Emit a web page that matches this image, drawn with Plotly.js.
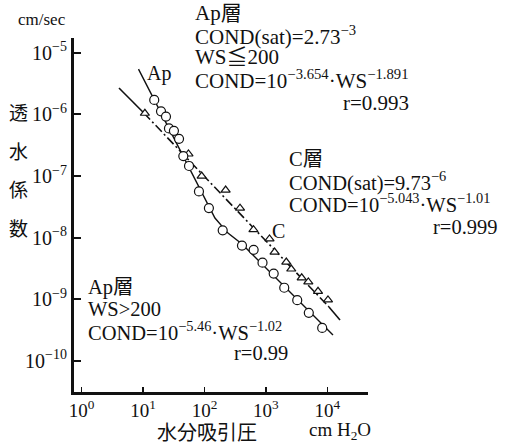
<!DOCTYPE html>
<html><head><meta charset="utf-8">
<script src="https://cdn.plot.ly/plotly-3.0.1.min.js"></script>
<style>html,body{margin:0;padding:0;background:#fff}#chart{width:506px;height:445px}</style>
</head><body><div id="chart"></div>
<script>
// Ap layer: measured points (WS in cm H2O, conductivity in cm/sec)
const apWS = [15.2, 19.6, 23.6, 26.4, 31.8, 38.5, 45.2, 56.0, 81.3, 118, 198, 408, 632, 881, 1340, 1990, 3240, 5000, 8260];
const apK  = [1.71e-6, 1.12e-6, 9.2e-7, 5.9e-7, 5.4e-7, 4.0e-7, 2.1e-7, 1.45e-7, 5.6e-8, 3.0e-8, 1.31e-8, 7.4e-9, 6.3e-9, 3.9e-9, 2.6e-9, 1.53e-9, 9.6e-10, 6.0e-10, 3.4e-10];
// C layer: measured points
const cWS = [10.7, 54.8, 90, 221, 379, 628, 1145, 1385, 2150, 2590, 3830, 4910, 7060, 10260];
const cK  = [1.04e-6, 2.27e-7, 9.95e-8, 5.9e-8, 3.0e-8, 1.34e-8, 9.5e-9, 5.8e-9, 4.0e-9, 3.08e-9, 2.22e-9, 1.90e-9, 1.34e-9, 9.7e-10];
// Ap fitted curve
const apLineWS = [8.42, 102, 148, 241, 408, 12380];
const apLineK  = [5.43e-6, 4.06e-8, 2.07e-8, 1.18e-8, 7.83e-9, 2.61e-10];
// C fitted line: solid start, dash-dot middle, solid end
const cLineWS = [4.05, 10.3, 10660, 16100];
const cLineK  = [2.67e-6, 1.05e-6, 7.45e-10, 4.58e-10];
// ticks
const xTickVals = [1, 10, 100, 1000, 10000];
const xTickText = ['10<sup>0</sup>', '10<sup>1</sup>', '10<sup>2</sup>', '10<sup>3</sup>', '10<sup>4</sup>'];
const yTickVals = [1e-10, 1e-9, 1e-8, 1e-7, 1e-6, 1e-5];
const yTickText = ['10<sup>−10</sup>', '10<sup>−9</sup>', '10<sup>−8</sup>', '10<sup>−7</sup>', '10<sup>−6</sup>', '10<sup>−5</sup>'];

const SERIF = 'Liberation Serif, Noto Sans CJK JP, serif';
const CJK = 'Noto Sans CJK JP, sans-serif';
const W = 506, H = 445, L = 74, R = 368, T = 38, B = 392;
const px = x => (x - L) / (R - L);
const py = y => (B - y) / (B - T);

const traces = [
  {x: apLineWS, y: apLineK, mode: 'lines', line: {color: '#111', width: 1.4}, hoverinfo: 'skip'},
  {x: cLineWS.slice(0, 2), y: cLineK.slice(0, 2), mode: 'lines', line: {color: '#111', width: 1.6}, hoverinfo: 'skip'},
  {x: cLineWS.slice(1, 3), y: cLineK.slice(1, 3), mode: 'lines', line: {color: '#111', width: 1.6, dash: '9px,3px,2px,3px'}, hoverinfo: 'skip'},
  {x: cLineWS.slice(2, 4), y: cLineK.slice(2, 4), mode: 'lines', line: {color: '#111', width: 1.6}, hoverinfo: 'skip'},
  {x: cWS, y: cK, mode: 'markers', marker: {symbol: 'triangle-up', size: 8, color: '#fff', line: {color: '#111', width: 1.2}}},
  {x: apWS, y: apK, mode: 'markers', marker: {symbol: 'circle', size: 9, color: '#fff', line: {color: '#111', width: 1.2}}}
];

function txt(text, x, y, size, opts) {
  return Object.assign({text: text, xref: 'paper', yref: 'paper', x: px(x), y: py(y),
    xanchor: 'left', yanchor: 'middle', showarrow: false,
    font: {family: SERIF, size: size, color: '#111'}}, opts || {});
}
function cjk(text, x, y, size) {
  return txt(text, x, y, size, {xanchor: 'center', font: {family: CJK, size: size, color: '#111'}});
}

const annotations = [
  txt('cm/sec', 42, 20, 17, {xanchor: 'center'}),
  cjk('透', 18, 112, 19),
  cjk('水', 18, 150, 19),
  cjk('係', 18, 188, 19),
  cjk('数', 18, 227, 19),
  cjk('水分吸引圧', 207, 431, 20),
  txt('cm H<sub>2</sub>O', 340, 431, 19, {xanchor: 'center'}),
  // top block
  txt('Ap層', 193, 13, 21),
  txt('COND(sat)=2.73<sup>−3</sup>', 193, 35, 21),
  txt('WS≦200', 193, 57, 21),
  txt('COND=10<sup>−3.654</sup>·WS<sup>−1.891</sup>', 193, 79, 21),
  txt('r=0.993', 411, 103, 21, {xanchor: 'right'}),
  // C block
  txt('C層', 287, 159, 20.5),
  txt('COND(sat)=9.73<sup>−6</sup>', 287, 181, 20.5),
  txt('COND=10<sup>−5.043</sup>·WS<sup>−1.01</sup>', 287, 203, 20.5),
  txt('r=0.999', 500, 227, 20.5, {xanchor: 'right'}),
  // bottom-left block
  txt('Ap層', 86, 287, 20.5),
  txt('WS&gt;200', 86, 309, 20.5),
  txt('COND=10<sup>−5.46</sup>·WS<sup>−1.02</sup>', 86, 331, 20.5),
  txt('r=0.99', 290, 353, 20.5, {xanchor: 'right'}),
  // curve labels
  txt('Ap', 159, 73, 20, {xanchor: 'center'}),
  txt('C', 278, 231, 20, {xanchor: 'center'})
];

const layout = {
  width: W, height: H,
  margin: {l: L, r: W - R, t: T, b: H - B, pad: 0},
  paper_bgcolor: '#fff', plot_bgcolor: '#fff',
  showlegend: false,
  xaxis: {type: 'log', range: [-0.125, 4.663], showgrid: false, zeroline: false,
    showline: true, linecolor: '#111', linewidth: 2.5,
    ticks: 'inside', ticklen: 5, tickwidth: 1.5, tickcolor: '#111',
    tickvals: xTickVals, ticktext: xTickText,
    tickfont: {family: SERIF, size: 19, color: '#111'}},
  yaxis: {type: 'log', range: [-10.508, -4.761], showgrid: false, zeroline: false,
    showline: true, linecolor: '#111', linewidth: 3,
    ticks: 'inside', ticklen: 7, tickwidth: 2, tickcolor: '#111',
    tickvals: yTickVals, ticktext: yTickText,
    tickfont: {family: SERIF, size: 20, color: '#111'}},
  annotations: annotations
};

Plotly.newPlot('chart', traces, layout, {staticPlot: true, displayModeBar: false});
</script>
</body></html>
